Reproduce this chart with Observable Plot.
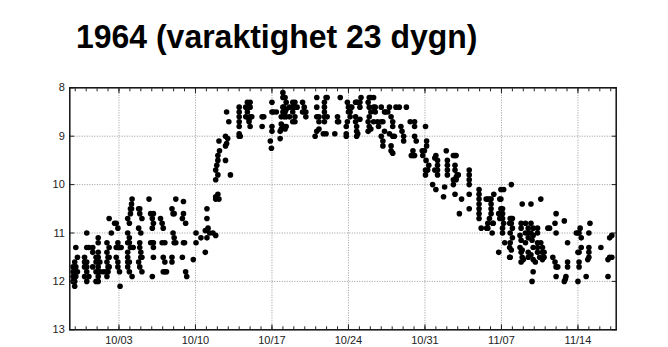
<!DOCTYPE html>
<html><head><meta charset="utf-8">
<script src="https://cdn.jsdelivr.net/npm/d3@7"></script>
<script src="https://cdn.jsdelivr.net/npm/@observablehq/plot@0.6"></script>
<style>
body{margin:0;background:#fff;width:668px;height:347px;overflow:hidden;font-family:"Liberation Sans",Arial,sans-serif}
#title{position:relative;height:70px}
#title span{position:absolute;left:76px;top:19px;font-size:34px;line-height:1;font-weight:bold;white-space:nowrap;color:#000;transform:scaleX(0.94);transform-origin:0 0}
#chart svg{display:block}
</style></head><body>
<div id="title"><span>1964 (varaktighet 23 dygn)</span></div>
<div id="chart"></div>
<script>
// x ticks: days after 10/03 and their labels
const weekTicks = [0, 7, 14, 21, 28, 35, 42];
const weekLabels = ["10/03", "10/10", "10/17", "10/24", "10/31", "11/07", "11/14"];
const levelTicks = [8, 9, 10, 11, 12, 13];

// observations: [day offset from 10/03, [levels at that time]]
const septOct = [
[-4.2,[11.7,11.8,11.9,12.0]],
[-4.05,[11.6,11.7,11.8,12.0,12.1]],
[-3.95,[11.3,11.7,11.9]],
[-3.8,[11.5,11.8]],
[-3.15,[11.5,11.6,11.7,11.9]],
[-2.95,[11.0,11.3,11.6,11.7,11.8,12.0]],
[-2.75,[11.3,11.9]],
[-2.4,[11.3,11.4,11.7]],
[-2.1,[11.5,11.6,11.8,12.0]],
[-1.9,[11.1,11.2,11.4,11.5,11.6,11.7,11.8,11.9,12.0]],
[-1.75,[11.6,11.8]],
[-1.45,[11.8]],
[-1.2,[11.8]],
[-1.1,[11.2,11.4,11.6,11.9]],
[-1.0,[11.5,11.7,11.8]],
[-0.9,[10.7,11.3,11.5,11.7]],
[-0.7,[11.0]],
[-0.4,[10.8]],
[-0.25,[10.8,11.3,11.5]],
[-0.1,[10.9,11.2,11.3,11.6,11.7]],
[0.05,[11.3,11.8]],
[0.1,[12.1]],
[0.2,[11.3]],
[0.8,[10.7,11.0,11.2,11.4,11.5,11.6,11.7]],
[0.95,[10.8,11.1,11.2,11.6,11.8]],
[1.05,[10.5,10.6,11.3]],
[1.15,[10.4,10.5]],
[1.2,[10.3,11.9]],
[1.3,[11.3]],
[1.8,[10.5,10.9,11.6]],
[1.9,[10.5,10.6,11.2,11.3,11.7]],
[2.0,[11.0,11.4,11.5]],
[2.1,[10.7,11.5,11.8]],
[2.75,[10.3]],
[2.9,[10.6,11.2]],
[3.05,[10.7,10.9,11.2,11.9]],
[3.15,[10.6,10.8,11.2,11.3,11.5]],
[3.8,[10.7]],
[3.95,[10.8,11.2]],
[4.05,[10.9,11.5,11.8]],
[4.2,[11.2,11.6,11.8]],
[4.35,[11.8]],
[4.85,[10.5,11.5,11.6]],
[4.95,[10.6,11.0]],
[5.05,[10.6,11.1,11.2]],
[5.2,[10.3,11.2]]
];
const riseOct = [
[5.8,[10.7,11.5]],
[5.9,[10.35,10.6,11.2]],
[6.0,[11.2]],
[6.1,[10.8,11.8]],
[6.2,[11.9]],
[6.8,[11.55]],
[7.05,[11.0,11.2]],
[7.5,[11.1]],
[7.9,[10.95,11.4]],
[8.05,[10.5,10.7,11.1]],
[8.15,[10.9]],
[8.3,[11.0]],
[8.6,[11.0]],
[8.85,[9.7,9.9,10.25,10.3,11.05]],
[8.95,[9.6]],
[9.05,[9.4,9.5,9.8,10.2]],
[9.15,[9.1,10.3]],
[9.2,[9.3]],
[9.75,[9.0,9.2,9.5]],
[9.85,[8.5,9.15]],
[9.95,[9.05]],
[10.05,[8.7]],
[10.2,[9.8]]
];
const peakOct = [
[11.0,[8.4,8.5,8.6,8.7,8.8,8.95,9.0]],
[11.1,[9.0]],
[11.6,[8.4,8.6]],
[11.75,[8.3,8.5]],
[11.9,[8.4,8.65,8.7]],
[12.0,[8.3,8.4,8.6,8.8]],
[12.15,[8.6]],
[13.1,[8.6,8.8]],
[13.25,[8.6]],
[13.85,[9.1]],
[13.95,[9.25]],
[14.0,[8.3,8.5,8.8,8.9]],
[14.15,[8.5]],
[14.4,[8.5]],
[14.75,[8.9,9.05]],
[14.85,[8.6,8.75,8.85]],
[15.0,[8.1,8.2,8.4,8.5,8.8]],
[15.1,[8.4,8.6,8.8]],
[15.2,[8.2,8.5,8.85]],
[15.3,[8.3,8.45,8.6,8.8]],
[15.6,[8.4,8.6]],
[15.9,[8.3,8.4,8.5,8.7]],
[16.1,[8.3,8.4,8.6,8.7]],
[16.3,[8.4]],
[16.8,[8.3,8.5]],
[16.95,[8.4,8.5]],
[17.1,[8.5,8.6]],
[17.95,[9.0]],
[18.1,[8.2,8.4,8.6,8.9]],
[18.3,[8.6,8.7,8.85]],
[18.7,[8.95]],
[18.8,[8.3,8.4,8.5,8.6,8.7]],
[18.95,[8.2,8.95]],
[19.05,[8.2,8.6]],
[19.75,[8.95]],
[20.0,[8.6,8.7]],
[20.1,[8.7]],
[20.25,[8.2]],
[20.8,[8.8,8.95,9.0]],
[20.9,[8.3,8.7]],
[21.0,[8.4,8.5]],
[21.15,[8.4,8.5,8.6]],
[21.3,[8.4]]
];
const lateOct = [
[21.65,[8.3,8.6,8.7]],
[21.75,[8.3,8.8,8.9,9.0]],
[21.85,[8.3,8.95]],
[22.05,[8.3,8.4,8.65]],
[22.15,[8.2]],
[22.8,[8.3,8.7,8.9]],
[22.9,[8.2,8.4,8.6,8.8]],
[23.05,[8.2,8.5,8.85]],
[23.3,[8.2,8.4,8.7]],
[23.45,[8.4,8.5]],
[23.65,[8.7]],
[23.75,[8.8]],
[24.0,[8.4,8.7,9.0]],
[24.15,[8.7,9.1,9.2]],
[24.3,[8.5,8.9]],
[24.4,[8.5]],
[24.6,[8.5]],
[24.75,[8.4,8.95]],
[24.9,[8.6,9.2,9.3]],
[25.05,[8.7,8.8,9.0,9.35]],
[25.2,[9.0]],
[25.35,[8.4]],
[25.65,[8.4]],
[25.8,[8.8]],
[25.9,[8.9]],
[26.05,[9.0,9.1]],
[26.3,[8.4]],
[26.65,[8.7]],
[26.75,[9.4]],
[26.9,[9.3,9.4]],
[27.05,[8.7,8.8,9.0,9.4]],
[27.2,[9.1]],
[27.75,[9.3]],
[27.8,[9.4]],
[27.95,[9.3]],
[28.05,[8.8,9.7,9.8]],
[28.1,[9.5]],
[28.15,[9.1,9.2]],
[28.25,[9.7]],
[28.35,[9.6]]
];
const novFall = [
[28.7,[10.0]],
[28.9,[9.45,9.7]],
[29.0,[9.4,10.1]],
[29.15,[9.5,9.6,9.7,9.8]],
[29.7,[10.25]],
[29.8,[10.05]],
[29.95,[9.3]],
[30.05,[9.5,9.6,9.7,9.8]],
[30.6,[9.4,9.9,10.0]],
[30.75,[9.4,9.6,9.7,10.2]],
[30.85,[9.4,9.85,9.9]],
[30.95,[9.8]],
[31.05,[9.8]],
[31.15,[10.6]],
[31.35,[10.3]],
[32.05,[9.7,9.8,9.9,10.0,10.2,10.5]],
[32.95,[10.1,10.2,10.3,10.4,10.5,10.6,10.7]],
[33.15,[10.9]],
[33.6,[10.3]],
[33.65,[10.9]],
[33.75,[10.3,10.8,10.9]],
[33.9,[10.3,10.7]],
[34.05,[10.3,10.4,10.5,10.6]],
[34.15,[11.0]],
[34.2,[10.8]],
[34.25,[10.8]],
[34.3,[10.2]],
[34.75,[10.6,11.4]],
[34.85,[10.3,10.7]],
[34.95,[10.1,10.3,10.5]],
[35.1,[10.5,10.6,10.7,10.9,11.0]],
[35.2,[10.1,10.8]],
[35.3,[11.2]],
[35.75,[10.8,11.3,11.5]],
[35.9,[10.0,10.7]]
];
const novLow = [
[35.8,[10.7,11.0,11.2,11.5]],
[35.9,[10.8,11.35]],
[36.0,[10.7,10.9,11.1]],
[36.7,[11.05,11.3]],
[36.8,[10.8,10.9,11.15,11.4,11.6]],
[36.9,[10.4,11.35,11.5]],
[37.0,[11.55]],
[37.2,[10.8,11.0,11.2]],
[37.45,[10.9,11.0,11.1,11.4,11.5]],
[37.7,[10.4,10.8,11.0,11.45]],
[37.8,[11.15,12.0]],
[37.9,[10.9,11.05,11.3,11.55,11.8]],
[38.1,[11.6]],
[38.3,[10.9,11.0,11.2,11.3,11.4]],
[38.5,[11.5]],
[38.6,[10.3,11.2]],
[38.75,[11.3,11.4,11.55]],
[38.9,[11.4,11.5]],
[39.25,[10.9]],
[39.4,[10.9]],
[39.7,[11.5]],
[39.9,[10.8,11.6]],
[40.0,[10.6,11.0,11.7,11.9]],
[40.15,[11.7]],
[40.75,[10.75,12.0]],
[40.85,[11.95]],
[40.9,[11.9]],
[41.05,[11.2,11.6,11.7]],
[41.85,[11.0]],
[42.0,[11.0,11.4,12.0]],
[42.1,[11.0,11.4,11.6,11.7]],
[42.2,[10.9]],
[42.3,[11.1,11.3]],
[42.75,[11.9]],
[42.9,[11.55]],
[43.0,[11.0,11.3,11.4,11.5]],
[43.1,[10.8]],
[44.1,[11.3]],
[44.75,[11.55,11.9]],
[44.9,[11.1,11.5]],
[45.1,[11.05,11.5]]
];

const points = [septOct, riseOct, peakOct, lateOct, novFall, novLow]
  .flat()
  .flatMap(([t, vals]) => vals.map(v => ({t, v})));
const dayTicks = d3.range(-4, 46);

const grid = {stroke: "#9a9a9a", strokeOpacity: 1, strokeWidth: 1, strokeDasharray: "1,1.5"};
const chart = Plot.plot({
  width: 668, height: 277,
  marginTop: 17.3, marginBottom: 17.7, marginLeft: 69.3, marginRight: 52.3,
  x: {domain: [-4.5, 45.5], label: null},
  y: {domain: [8, 13], reverse: true, label: null},
  style: {fontFamily: "'Liberation Sans', Arial, sans-serif", fontSize: "11px", color: "#222", background: "white"},
  marks: [
    Plot.gridX(weekTicks, grid),
    Plot.gridY(levelTicks, grid),
    Plot.dot(points, {x: "t", y: "v", r: 2.8, fill: "black", stroke: "none"}),
    Plot.axisX(dayTicks, {anchor: "bottom", tickSize: -3, tickFormat: () => "", label: null}),
    Plot.axisX(dayTicks, {anchor: "top", tickSize: -3, tickFormat: () => "", label: null}),
    Plot.axisX(weekTicks, {anchor: "bottom", tickSize: -5, tickPadding: 11, tickFormat: d => weekLabels[weekTicks.indexOf(d)], label: null}),
    Plot.axisX(weekTicks, {anchor: "top", tickSize: -5, tickFormat: () => "", label: null}),
    Plot.axisY(levelTicks, {anchor: "left", tickSize: -5, tickPadding: 10, tickFormat: d => String(d), label: null}),
    Plot.axisY(levelTicks, {anchor: "right", tickSize: -5, tickFormat: () => "", label: null}),
    Plot.frame({stroke: "#111", strokeWidth: 1.5})
  ]
});
document.getElementById("chart").appendChild(chart);
</script>
</body></html>
